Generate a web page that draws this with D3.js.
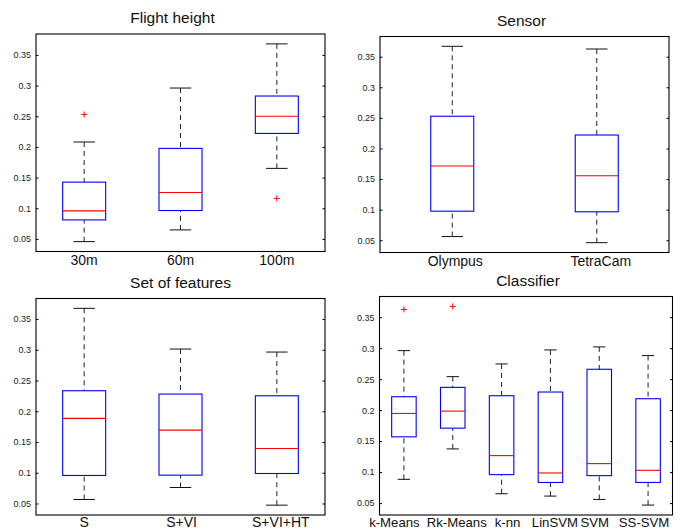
<!DOCTYPE html>
<html>
<head>
<meta charset="utf-8">
<script src="https://cdn.jsdelivr.net/npm/d3@7"></script>
<style>
  html, body { margin: 0; padding: 0; background: #fff; }
  svg { display: block; font-family: "Liberation Sans", Arial, Helvetica, sans-serif; }
</style>
</head>
<body>
<div id="chart"></div>
<script>
// box stats per category: [lower whisker, q1, median, q3, upper whisker]
var flightCats = ['30m', '60m', '100m'];
var flightBoxes = [
    [0.0456, 0.081, 0.0957, 0.1426, 0.208],
    [0.0647, 0.0963, 0.1257, 0.1976, 0.296],
    [0.165, 0.222, 0.250, 0.283, 0.368]
];
var flightOut = [[0.253], [], [0.116]];

var sensorCats = ['Olympus', 'TetraCam'];
var sensorBoxes = [
    [0.056, 0.0975, 0.1713, 0.2527, 0.367],
    [0.046, 0.0965, 0.1555, 0.222, 0.3626]
];
var sensorOut = [[], []];

var featCats = ['S', 'S+VI', 'S+VI+HT'];
var featBoxes = [
    [0.0565, 0.0956, 0.1884, 0.2334, 0.3674],
    [0.076, 0.0961, 0.1694, 0.228, 0.3012],
    [0.0473, 0.0988, 0.1395, 0.2252, 0.2963]
];
var featOut = [[], [], []];

var clsCats = ['k-Means', 'Rk-Means', 'k-nn', 'LinSVM', 'SVM', 'SS-SVM'];
var clsBoxes = [
    [0.0883, 0.1569, 0.1946, 0.2216, 0.296],
    [0.1374, 0.1709, 0.1984, 0.2367, 0.254],
    [0.0651, 0.0959, 0.1266, 0.2232, 0.2745],
    [0.0613, 0.0833, 0.0986, 0.2292, 0.2971],
    [0.0559, 0.0943, 0.1137, 0.2659, 0.302],
    [0.0468, 0.0833, 0.1029, 0.2184, 0.288]
];
var clsOut = [[0.3625], [0.3673], [], [], [], []];

var yTicks = [0.05, 0.1, 0.15, 0.2, 0.25, 0.3, 0.35];

var width = 683, height = 529;

// panel frames (pixels)
var panels = [
    {title: 'Flight height', cats: flightCats, boxes: flightBoxes, out: flightOut,
     x0: 36, x1: 325, y0: 34, y1: 251.5, bw: 43, tdx: -8, ldy: 13.5, lfs: 14, ldx: [0, 0, 0]},
    {title: 'Sensor', cats: sensorCats, boxes: sensorBoxes, out: sensorOut,
     x0: 380, x1: 669, y0: 36.5, y1: 252.5, bw: 43, tdx: -3, ldy: 13.5, lfs: 14, ldx: [3, 4]},
    {title: 'Set of features', cats: featCats, boxes: featBoxes, out: featOut,
     x0: 36, x1: 325, y0: 298.5, y1: 515, bw: 43, tdx: 0, ldy: 11.5, lfs: 14, ldx: [0, 1, 4]},
    {title: 'Classifier', cats: clsCats, boxes: clsBoxes, out: clsOut,
     x0: 379.5, x1: 672.5, y0: 296.5, y1: 515, bw: 24.5, tdx: 2, ldy: 11.5, lfs: 13.2, ldx: [-9.5, 4, 6, 4.5, -4.5, -4]}
];

var svg = d3.select('#chart').append('svg')
    .attr('width', width)
    .attr('height', height);

panels.forEach(function (p) {
    var g = svg.append('g');

    // y limits: data range padded by 5% like matlab boxplot
    var all = [];
    p.boxes.forEach(function (b, i) { all = all.concat([b[0], b[4]], p.out[i]); });
    var lo = d3.min(all), hi = d3.max(all), pad = (hi - lo) * 0.05;

    var y = d3.scaleLinear().domain([lo - pad, hi + pad]).range([p.y1, p.y0]);
    var x = d3.scalePoint().domain(p.cats).range([p.x0, p.x1]).padding(0.5);

    // frame
    g.append('rect')
        .attr('x', p.x0).attr('y', p.y0)
        .attr('width', p.x1 - p.x0).attr('height', p.y1 - p.y0)
        .attr('fill', 'none').attr('stroke', '#000').attr('stroke-width', 1.1);

    // y axis left, ticks pointing in
    var axL = g.append('g').attr('transform', 'translate(' + p.x0 + ',0)')
        .call(d3.axisLeft(y).tickValues(yTicks).tickSizeInner(-2.5).tickSizeOuter(0)
            .tickPadding(5).tickFormat(function (d) { return String(+d.toFixed(2)); }));
    axL.select('.domain').remove();
    axL.selectAll('text').attr('font-size', '9px').attr('fill', '#222')
        .attr('x', -5).attr('text-anchor', 'end');
    axL.attr('font-family', null);

    var axR = g.append('g').attr('transform', 'translate(' + p.x1 + ',0)')
        .call(d3.axisRight(y).tickValues(yTicks).tickSizeInner(-2.5).tickSizeOuter(0)
            .tickFormat(''));
    axR.select('.domain').remove();

    // category labels
    g.selectAll('.cat').data(p.cats).enter().append('text')
        .attr('x', function (d, i) { return x(d) + p.ldx[i]; })
        .attr('y', p.y1 + p.ldy)
        .attr('text-anchor', 'middle')
        .attr('font-size', p.lfs + 'px')
        .attr('fill', '#111')
        .text(function (d) { return d; });

    // title
    g.append('text')
        .attr('x', (p.x0 + p.x1) / 2 + p.tdx)
        .attr('y', p.y0 - 11)
        .attr('text-anchor', 'middle')
        .attr('font-size', '15.5px')
        .attr('fill', '#111')
        .text(p.title);

    var bw = p.bw, cw = bw / 2;
    var box = g.selectAll('.box').data(p.boxes).enter().append('g');

    // whiskers
    box.append('line')
        .attr('x1', function (d, i) { return x(p.cats[i]); })
        .attr('x2', function (d, i) { return x(p.cats[i]); })
        .attr('y1', function (d) { return y(d[4]); })
        .attr('y2', function (d) { return y(d[3]); })
        .attr('stroke', '#222').attr('stroke-dasharray', '5,4');
    box.append('line')
        .attr('x1', function (d, i) { return x(p.cats[i]); })
        .attr('x2', function (d, i) { return x(p.cats[i]); })
        .attr('y1', function (d) { return y(d[0]); })
        .attr('y2', function (d) { return y(d[1]); })
        .attr('stroke', '#222').attr('stroke-dasharray', '5,4');
    // caps
    [0, 4].forEach(function (k) {
        box.append('line')
            .attr('x1', function (d, i) { return x(p.cats[i]) - cw / 2; })
            .attr('x2', function (d, i) { return x(p.cats[i]) + cw / 2; })
            .attr('y1', function (d) { return y(d[k]); })
            .attr('y2', function (d) { return y(d[k]); })
            .attr('stroke', '#111');
    });
    // box
    box.append('rect')
        .attr('x', function (d, i) { return x(p.cats[i]) - bw / 2; })
        .attr('y', function (d) { return y(d[3]); })
        .attr('width', bw)
        .attr('height', function (d) { return y(d[1]) - y(d[3]); })
        .attr('fill', 'none').attr('stroke', '#0000ff').attr('stroke-width', 1.1);
    // median
    box.append('line')
        .attr('x1', function (d, i) { return x(p.cats[i]) - bw / 2; })
        .attr('x2', function (d, i) { return x(p.cats[i]) + bw / 2; })
        .attr('y1', function (d) { return y(d[2]); })
        .attr('y2', function (d) { return y(d[2]); })
        .attr('stroke', '#ff0000').attr('stroke-width', 1.1);

    // outliers as red plus signs
    var pts = [];
    p.out.forEach(function (o, i) { o.forEach(function (v) { pts.push([p.cats[i], v]); }); });
    g.selectAll('.out').data(pts).enter().append('path')
        .attr('transform', function (d) { return 'translate(' + x(d[0]) + ',' + y(d[1]) + ')'; })
        .attr('d', 'M-3,0H3M0,-3V3')
        .attr('stroke', '#ff0000').attr('stroke-width', 1).attr('fill', 'none');
});
</script>
</body>
</html>
